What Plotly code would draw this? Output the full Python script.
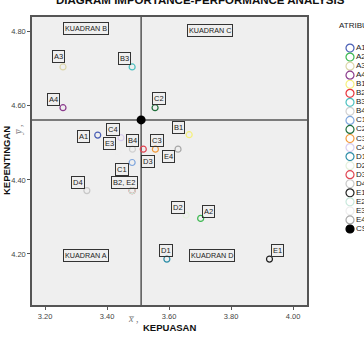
import plotly.graph_objects as go

# ---- data ----
attributes = ["A1", "A2", "A3", "A4", "B1", "B2", "B3", "B4", "C1", "C2",
              "C3", "C4", "D1", "D2", "D3", "D4", "E1", "E2", "E3", "E4"]
kepuasan = [3.370, 3.702, 3.258, 3.258, 3.665, 3.481, 3.481, 3.482, 3.481, 3.555,
            3.556, 3.445, 3.593, 3.655, 3.517, 3.335, 3.924, 3.481, 3.435, 3.629]
kepentingan = [4.521, 4.296, 4.705, 4.595, 4.522, 4.371, 4.705, 4.483, 4.447, 4.595,
               4.483, 4.514, 4.186, 4.305, 4.483, 4.371, 4.186, 4.371, 4.476, 4.483]
point_labels = ["A1", "A2", "A3", "A4", "B1", "B2, E2", "B3", "B4", "C1", "C2",
                "C3", "C4", "D1", "D2", "D3", "D4", "E1", "", "E3", "E4"]
mean_x = 3.510
mean_y = 4.562
quadrants = ["KUADRAN A", "KUADRAN B", "KUADRAN C", "KUADRAN D"]
quad_x = [3.332, 3.332, 3.732, 3.739]
quad_y = [4.197, 4.808, 4.803, 4.197]
x_ticks = [3.2, 3.4, 3.6, 3.8, 4.0]
y_ticks = [4.2, 4.4, 4.6, 4.8]

# ---- styles ----
colors = ["#4a5fb5", "#3cb850", "#dcd6a8", "#8a3a8c", "#f5f07a", "#e8333b", "#4cc0c0",
          "#d0d0d0", "#7fa6dd", "#1f6e3a", "#f39a3a", "#d8cdef", "#2f8fa8", "#e4f0dc",
          "#e04452", "#c8c8c8", "#222222", "#c9e8dc", "#eeeeee", "#a8a8a8"]
label_offsets = {"A1": (-14, 1), "A2": (8, -7), "A3": (-5, -10), "A4": (-10, -8),
                 "B1": (-11, -7), "B2, E2": (-8, -8), "B3": (-8, -8), "B4": (0, -9),
                 "C1": (-10, 7), "C2": (4, -9), "C3": (2, -9), "C4": (-8, -8),
                 "D1": (-1, -9), "D2": (-8, -8), "D3": (5, 12), "D4": (-9, -8),
                 "E1": (8, -9), "E3": (-8, -8), "E4": (-10, 7)}
FONT = "Liberation Sans, Arial, sans-serif"

fig = go.Figure()

# data points
for name, xv, yv, c in zip(attributes, kepuasan, kepentingan, colors):
    fig.add_trace(go.Scatter(x=[xv], y=[yv], mode="markers", name=name,
                             marker=dict(symbol="circle-open", size=6, color=c,
                                         line=dict(width=1.2, color=c)),
                             showlegend=False, xaxis="x", yaxis="y"))
# centre point
fig.add_trace(go.Scatter(x=[mean_x], y=[mean_y], mode="markers", name="CS",
                         marker=dict(symbol="circle", size=9, color="black"),
                         showlegend=False, xaxis="x", yaxis="y"))

# legend drawn on side axis
legend_names = attributes + ["CS"]
legend_colors = colors + ["black"]
legend_symbols = ["circle-open"] * len(attributes) + ["circle"]
fig.add_trace(go.Scatter(x=[0] * len(legend_names), y=legend_names, mode="markers+text",
                         text=legend_names, textposition="middle right",
                         textfont=dict(size=8, color="#222", family=FONT),
                         marker=dict(symbol=legend_symbols, size=8, color=legend_colors,
                                     line=dict(width=1.2, color=legend_colors)),
                         showlegend=False, xaxis="x2", yaxis="y2", cliponaxis=False,
                         hoverinfo="skip"))

annotations = []
for lab, xv, yv in zip(point_labels, kepuasan, kepentingan):
    if not lab:
        continue
    dx, dy = label_offsets[lab]
    annotations.append(dict(x=xv, y=yv, xref="x", yref="y", text=lab, showarrow=False,
                            xshift=dx, yshift=-dy, font=dict(size=7.5, color="#222", family=FONT),
                            bordercolor="#333", borderwidth=1, borderpad=1))
for q, xv, yv in zip(quadrants, quad_x, quad_y):
    annotations.append(dict(x=xv, y=yv, xref="x", yref="y", text=q, showarrow=False,
                            font=dict(size=7.2, color="#222", family=FONT),
                            bordercolor="#333", borderwidth=1, borderpad=1))

W, H = 364, 339
ml, mr, mt, mb = 32, 0, 17, 34
pw, ph = W - ml - mr, H - mt - mb
def px(xp): return (xp - ml) / pw
def py(yp): return 1 - (yp - mt) / ph

annotations += [
    dict(x=px(200), y=py(0), xref="paper", yref="paper", text="<b>DIAGRAM IMPORTANCE-PERFORMANCE ANALYSIS</b>",
         showarrow=False, xanchor="center", yanchor="middle", font=dict(size=11.5, color="#111", family=FONT)),
    dict(x=px(169), y=py(327), xref="paper", yref="paper", text="<b>KEPUASAN</b>",
         showarrow=False, xanchor="center", yanchor="middle", font=dict(size=9.5, color="#111", family=FONT)),
    dict(x=px(6), y=py(161), xref="paper", yref="paper", text="<b>KEPENTINGAN</b>", textangle=-90,
         showarrow=False, xanchor="center", yanchor="middle", font=dict(size=9.5, color="#111", family=FONT)),
    dict(x=px(133), y=py(318), xref="paper", yref="paper", text="<i>x\u0305</i> ,",
         showarrow=False, xanchor="center", yanchor="middle", font=dict(size=10, color="#777", family="Liberation Serif, serif")),
    dict(x=px(18), y=py(130), xref="paper", yref="paper", text="<i>y\u0305</i> ,", textangle=-90,
         showarrow=False, xanchor="center", yanchor="middle", font=dict(size=10, color="#777", family="Liberation Serif, serif")),
    dict(x=px(337), y=py(25), xref="paper", yref="paper", text="ATRIBUT",
         showarrow=False, xanchor="left", yanchor="middle", font=dict(size=8, color="#222", family=FONT)),
]

shapes = [
    dict(type="rect", xref="paper", yref="paper", x0=0, x1=px(307), y0=0, y1=1,
         fillcolor="#efefef", line=dict(width=0), layer="below"),
    dict(type="line", xref="x", yref="paper", x0=mean_x, x1=mean_x, y0=0, y1=1,
         line=dict(color="#555", width=1.5), layer="below"),
    dict(type="line", xref="paper", yref="y", x0=0, x1=px(307), y0=mean_y, y1=mean_y,
         line=dict(color="#555", width=1.5), layer="below"),
]

fig.update_layout(
    width=W, height=H, autosize=False,
    margin=dict(l=ml, r=mr, t=mt, b=mb, autoexpand=False),
    paper_bgcolor="white", plot_bgcolor="white",
    font=dict(family=FONT),
    xaxis=dict(domain=[0, px(307)], range=[3.158, 4.045], tickvals=x_ticks,
               ticktext=[f"{v:.2f}" for v in x_ticks], ticks="outside", ticklen=3,
               tickcolor="#555", showgrid=False, zeroline=False, showline=True, mirror=True,
               linecolor="#555", linewidth=1.5, tickfont=dict(size=7.5, color="#444")),
    yaxis=dict(domain=[0, 1], range=[4.062, 4.84], tickvals=y_ticks,
               ticktext=[f"{v:.2f}" for v in y_ticks], ticks="outside", ticklen=3,
               tickcolor="#555", showgrid=False, zeroline=False, showline=True, mirror=True,
               linecolor="#555", linewidth=1.5, tickfont=dict(size=7.5, color="#444")),
    xaxis2=dict(domain=[px(309), 1], range=[-(350 - 309) / 55, 1 - (350 - 309) / 55],
                visible=False, anchor="y2"),
    yaxis2=dict(domain=[0, 1], type="category", categoryarray=legend_names,
                range=[28.4, -3.43], visible=False, anchor="x2"),
    annotations=annotations, shapes=shapes,
)

fig.write_html("out.html")
